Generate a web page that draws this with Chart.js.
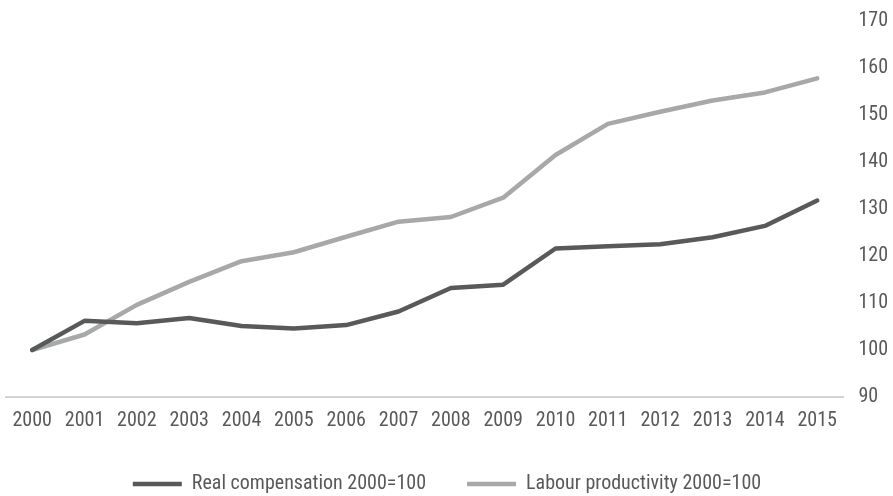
<!DOCTYPE html>
<html>
<head>
<meta charset="utf-8">
<script src="https://cdn.jsdelivr.net/npm/chart.js@4.4.0/dist/chart.umd.min.js"></script>
<style>
  html, body { margin: 0; padding: 0; background: #fff; }
  #wrap { width: 893px; height: 496px; }
</style>
</head>
<body>
<div id="wrap"><canvas id="c" width="893" height="496"></canvas></div>
<script>
const years = ["2000","2001","2002","2003","2004","2005","2006","2007","2008","2009","2010","2011","2012","2013","2014","2015"];
const realCompensation = [100, 106.2, 105.7, 106.8, 105.1, 104.6, 105.3, 108.2, 113.2, 113.9, 121.6, 122.1, 122.5, 124.0, 126.4, 131.8];
const labourProductivity = [100, 103.3, 109.6, 114.5, 118.9, 120.8, 124.1, 127.3, 128.3, 132.4, 141.5, 148.1, 150.7, 153.1, 154.8, 157.8];
const yTicks = [90, 100, 110, 120, 130, 140, 150, 160, 170];

const FONT = "'Roboto Condensed', 'DejaVu Sans Condensed', sans-serif";
const TXT = '#595959';
const DARK = '#575a59';
const LIGHT = '#a6a9a8';
const LEGEND_HEIGHT = 63;

// keep the legend box compact while using wide spacing between its items
const legendHeightPlugin = {
  id: 'legendHeight',
  beforeInit(chart) {
    const lg = chart.legend;
    if (!lg) return;
    const orig = lg.fit.bind(lg);
    lg.fit = function () { orig(); this.height = LEGEND_HEIGHT; };
  }
};

function draw() {
  new Chart(document.getElementById('c'), {
    type: 'line',
    data: {
      labels: years,
      datasets: [
        { label: 'Real compensation 2000=100', data: realCompensation, borderColor: DARK, backgroundColor: DARK,
          borderWidth: 4.5, pointRadius: 0, tension: 0, borderCapStyle: 'round', borderJoinStyle: 'round' },
        { label: 'Labour productivity 2000=100', data: labourProductivity, borderColor: LIGHT, backgroundColor: LIGHT,
          borderWidth: 4.5, pointRadius: 0, tension: 0, borderCapStyle: 'round', borderJoinStyle: 'round' }
      ]
    },
    plugins: [legendHeightPlugin],
    options: {
      responsive: false,
      animation: false,
      layout: { padding: { left: 6, right: 5, top: 21, bottom: 0 } },
      plugins: {
        tooltip: { enabled: false },
        legend: {
          position: 'bottom',
          labels: {
            usePointStyle: true,
            pointStyle: 'line',
            pointStyleWidth: 49,
            boxHeight: 20,
            padding: 41,
            color: TXT,
            font: { family: FONT, size: 20 }
          }
        }
      },
      scales: {
        x: {
          offset: true,
          grid: { display: false, drawTicks: false },
          border: { display: true, color: '#d4d4d4', width: 2 },
          ticks: { color: TXT, font: { family: FONT, size: 20 }, padding: 12, maxRotation: 0, autoSkip: false },
          afterFit: (s) => { s.height -= 12; }
        },
        y: {
          position: 'right',
          min: 90, max: 170,
          afterBuildTicks: (axis) => { axis.ticks = yTicks.map(v => ({ value: v })); },
          grid: { display: false, drawTicks: false },
          border: { display: false },
          ticks: { color: TXT, font: { family: FONT, size: 20 }, padding: 15 },
          afterFit: (s) => { s.width -= 15; s.paddingTop = 0; s.paddingBottom = 0; }
        }
      }
    }
  });
}

if (document.fonts && document.fonts.load) {
  document.fonts.load("20px 'Roboto Condensed'").then(draw, draw);
} else {
  draw();
}
</script>
</body>
</html>
